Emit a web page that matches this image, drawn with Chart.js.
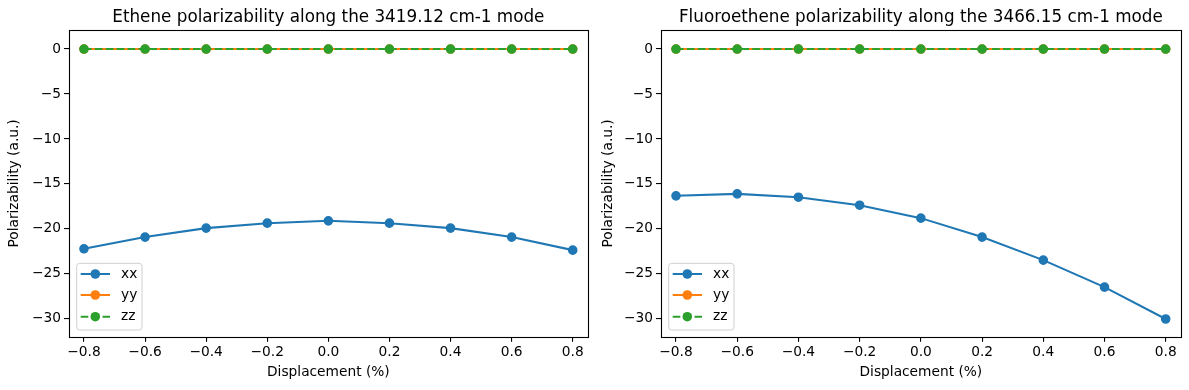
<!DOCTYPE html>
<html>
<head>
<meta charset="utf-8">
<script src="https://cdn.jsdelivr.net/npm/chart.js@4.4.0/dist/chart.umd.min.js"></script>
<style>
  html, body { margin: 0; padding: 0; background: #fff; }
  #wrap { position: relative; width: 1189px; height: 390px; }
  #c1 { position: absolute; left: 0; top: 0; }
  #c2 { position: absolute; left: 594px; top: 0; }
</style>
</head>
<body>
<div id="wrap">
  <canvas id="c1" width="594" height="390"></canvas>
  <canvas id="c2" width="595" height="390"></canvas>
</div>
<script>
// ---- data ----
const displacement = [-0.8, -0.6, -0.4, -0.2, 0.0, 0.2, 0.4, 0.6, 0.8];
const etheneXX = [-22.22, -20.92, -19.92, -19.37, -19.11, -19.37, -19.92, -20.92, -22.37];
const etheneYY = [0, 0, 0, 0, 0, 0, 0, 0, 0];
const etheneZZ = [0, 0, 0, 0, 0, 0, 0, 0, 0];
const fluoroXX = [-16.33, -16.11, -16.48, -17.37, -18.81, -20.92, -23.48, -26.48, -30.03];
const fluoroYY = [0, 0, 0, 0, 0, 0, 0, 0, 0];
const fluoroZZ = [0, 0, 0, 0, 0, 0, 0, 0, 0];
const seriesLabels = ['xx', 'yy', 'zz'];
const xTicks = [-0.8, -0.6, -0.4, -0.2, 0.0, 0.2, 0.4, 0.6, 0.8];
const yTicks = [-30, -25, -20, -15, -10, -5, 0];
const titles = [
  'Ethene polarizability along the 3419.12 cm-1 mode',
  'Fluoroethene polarizability along the 3466.15 cm-1 mode'
];
const xTitle = 'Displacement (%)';
const yTitle = 'Polarizability (a.u.)';

const FONT = "'DejaVu Sans', sans-serif";
const COLORS = ['#1f77b4', '#ff7f0e', '#2ca02c'];
const DASHES = [[], [], [7.6, 3.3]];

Chart.defaults.font.family = FONT;
Chart.defaults.color = '#000';

const minus = s => s.replace('-', '\u2212');

const frameAndLegend = {
  id: 'frameAndLegend',
  afterDraw(chart) {
    const ctx = chart.ctx;
    const a = chart.chartArea;
    ctx.save();
    // spines
    ctx.strokeStyle = '#000';
    ctx.lineWidth = 1.1;
    ctx.strokeRect(Math.round(a.left) + 0.5, Math.round(a.top) + 0.5,
                   Math.round(a.right - a.left), Math.round(a.bottom - a.top));
    // legend
    const w = 65.3, h = 66.7;
    const bx = a.left + 7.7, by = a.bottom - 6.7 - h;
    const r = 3;
    ctx.beginPath();
    ctx.moveTo(bx + r, by);
    ctx.lineTo(bx + w - r, by);
    ctx.arcTo(bx + w, by, bx + w, by + r, r);
    ctx.lineTo(bx + w, by + h - r);
    ctx.arcTo(bx + w, by + h, bx + w - r, by + h, r);
    ctx.lineTo(bx + r, by + h);
    ctx.arcTo(bx, by + h, bx, by + h - r, r);
    ctx.lineTo(bx, by + r);
    ctx.arcTo(bx, by, bx + r, by, r);
    ctx.closePath();
    ctx.fillStyle = 'rgba(255,255,255,0.8)';
    ctx.fill();
    ctx.strokeStyle = '#d0d0d0';
    ctx.lineWidth = 1;
    ctx.stroke();
    const rows = [10.7, 31.7, 53.4];
    chart.data.datasets.forEach((ds, i) => {
      const y = by + rows[i];
      ctx.strokeStyle = ds.borderColor;
      ctx.lineWidth = 2.06;
      ctx.setLineDash(ds.borderDash || []);
      ctx.beginPath();
      ctx.moveTo(bx + 4, y);
      ctx.lineTo(bx + 33.3, y);
      ctx.stroke();
      ctx.setLineDash([]);
      ctx.fillStyle = ds.pointBackgroundColor;
      ctx.beginPath();
      ctx.arc(bx + 18.6, y, 4.8, 0, Math.PI * 2);
      ctx.fill();
      ctx.fillStyle = '#000';
      ctx.font = '13.75px ' + FONT;
      ctx.textBaseline = 'middle';
      ctx.textAlign = 'left';
      ctx.fillText(ds.label, bx + 44.3, y);
    });
    ctx.restore();
  }
};

function makeChart(id, title, series, yWidth, rightPad) {
  const datasets = series.map((vals, i) => ({
    label: seriesLabels[i],
    data: displacement.map((x, j) => ({ x: x, y: vals[j] })),
    borderColor: COLORS[i],
    backgroundColor: COLORS[i],
    pointBackgroundColor: COLORS[i],
    pointBorderColor: COLORS[i],
    pointBorderWidth: 1.4,
    pointRadius: 4.1,
    borderWidth: 2.06,
    borderDash: DASHES[i],
    order: 2 - i,
    tension: 0
  }));
  return new Chart(document.getElementById(id), {
    type: 'line',
    data: { datasets },
    plugins: [frameAndLegend],
    options: {
      responsive: false,
      animation: false,
      devicePixelRatio: 1,
      layout: { padding: { left: 0, right: rightPad, top: 0, bottom: 0 } },
      plugins: {
        legend: { display: false },
        tooltip: { enabled: false },
        title: {
          display: true,
          text: title,
          fullSize: false,
          color: '#000',
          font: { size: 16.8, weight: 'normal', family: FONT },
          padding: { top: 7.5, bottom: 2.5 }
        }
      },
      scales: {
        x: {
          type: 'linear',
          min: -0.849,
          max: 0.849,
          afterBuildTicks: s => { s.ticks = xTicks.map(v => ({ value: v })); },
          afterFit: s => { s.height = 53.3; },
          ticks: {
            font: { size: 13.75 },
            color: '#000',
            padding: 2,
            maxRotation: 0,
            autoSkip: false,
            callback: v => minus(Number(v).toFixed(1))
          },
          grid: { display: true, drawOnChartArea: false, drawTicks: true, tickLength: 5, color: '#000', lineWidth: 1.1 },
          border: { display: false },
          title: { display: true, text: xTitle, font: { size: 13.75 }, color: '#000', padding: { top: 0, bottom: 9.7 } }
        },
        y: {
          type: 'linear',
          min: -32,
          max: 2.1,
          afterBuildTicks: s => { s.ticks = yTicks.map(v => ({ value: v })); },
          afterFit: s => { s.width = yWidth; },
          ticks: {
            font: { size: 13.75 },
            color: '#000',
            padding: 3,
            autoSkip: false,
            callback: v => minus(String(v))
          },
          grid: { display: true, drawOnChartArea: false, drawTicks: true, tickLength: 5, color: '#000', lineWidth: 1.1 },
          border: { display: false },
          title: { display: true, text: yTitle, font: { size: 13.75 }, color: '#000', padding: { top: 6, bottom: 0 } }
        }
      }
    }
  });
}

makeChart('c1', titles[0], [etheneXX, etheneYY, etheneZZ], 69, 6.3);
makeChart('c2', titles[1], [fluoroXX, fluoroYY, fluoroZZ], 67, 8.3);
</script>
</body>
</html>
